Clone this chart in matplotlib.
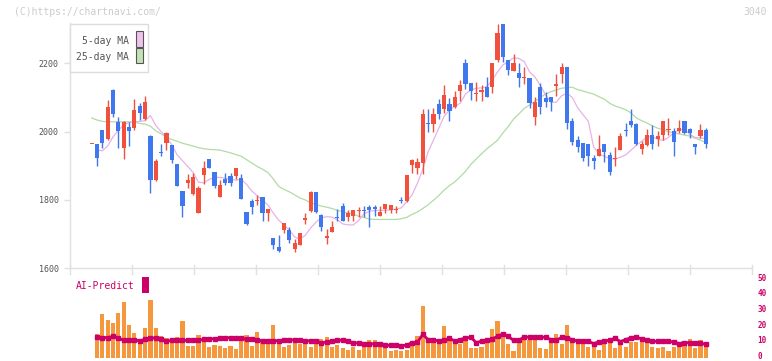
import matplotlib
matplotlib.use('Agg')
import matplotlib.pyplot as plt
import matplotlib.transforms as mtransforms
from matplotlib.patches import Rectangle
import numpy as np

# ---------------- data ----------------
opens = [1963, 1963, 2005, 1978, 2122, 2029, 1953, 2015, 2012, 2076, 2037, 1987, 1858, 1940, 1968, 1961,
         1905, 1826, 1851, 1817, 1763, 1873, 1920, 1882, 1810, 1861, 1870, 1870, 1865, 1766, 1797, 1797,
         1808, 1763, 1688, 1663, 1712, 1712, 1657, 1668, 1740, 1769, 1822, 1756, 1690, 1707, 1750, 1782,
         1749, 1753, 1769, 1770, 1780, 1780, 1753, 1773, 1771, 1771, 1799, 1798, 1902, 1895, 1907, 2026,
         2021, 2080, 2065, 2080, 2073, 2119, 2200, 2141, 2111, 2115, 2130, 2132, 2210, 2315, 2210, 2178,
         2173, 2157, 2156, 2044, 2132, 2098, 2102, 2135, 2169, 2190, 2031, 1976, 1966, 1963, 1924, 1930,
         1963, 1932, 1919, 1946, 2004, 2031, 2022, 1949, 1961, 1990, 1978, 1990, 2006, 2002, 2002, 2031,
         2008, 1964, 1987, 2005]
highs = [1963, 1963, 2005, 2093, 2125, 2044, 2031, 2029, 2096, 2083, 2105, 1990, 1920, 1964, 2000, 1961,
         1905, 1826, 1876, 1878, 1841, 1914, 1920, 1882, 1858, 1878, 1878, 1895, 1876, 1766, 1802, 1815,
         1808, 1775, 1688, 1697, 1732, 1722, 1686, 1704, 1761, 1826, 1822, 1758, 1714, 1739, 1774, 1790,
         1771, 1771, 1780, 1783, 1785, 1785, 1782, 1788, 1785, 1782, 1810, 1873, 1920, 1924, 2066, 2066,
         2070, 2096, 2137, 2098, 2119, 2151, 2213, 2141, 2146, 2137, 2161, 2200, 2315, 2315, 2210, 2226,
         2200, 2190, 2158, 2102, 2141, 2117, 2102, 2169, 2200, 2190, 2039, 1987, 1966, 1963, 1932, 1990,
         1963, 1941, 1954, 1997, 2024, 2065, 2025, 1974, 2008, 2020, 2002, 2031, 2039, 2012, 2034, 2031,
         2012, 1964, 2022, 2012]
lows = [1963, 1900, 1951, 1975, 2042, 1953, 1919, 1959, 2005, 2034, 2034, 1821, 1855, 1929, 1946, 1909,
        1841, 1749, 1834, 1816, 1763, 1847, 1895, 1836, 1810, 1844, 1841, 1861, 1804, 1727, 1759, 1785,
        1739, 1739, 1656, 1649, 1704, 1673, 1649, 1668, 1730, 1766, 1763, 1710, 1671, 1707, 1737, 1739,
        1739, 1739, 1751, 1751, 1720, 1753, 1753, 1761, 1761, 1761, 1790, 1795, 1878, 1875, 1875, 2000,
        2000, 2037, 2054, 2032, 2068, 2090, 2125, 2093, 2090, 2090, 2102, 2112, 2205, 2205, 2166, 2178,
        2132, 2139, 2070, 2018, 2051, 2073, 2059, 2105, 2141, 2008, 1961, 1939, 1915, 1900, 1891, 1930,
        1910, 1873, 1900, 1946, 1987, 2015, 1962, 1935, 1958, 1949, 1958, 1976, 1990, 1929, 1995, 1993,
        1982, 1935, 1980, 1953]
closes = [1963, 1924, 1968, 2073, 2052, 2003, 2028, 2003, 2063, 2056, 2088, 1857, 1914, 1938, 1995, 1917,
          1841, 1783, 1857, 1868, 1836, 1895, 1895, 1841, 1844, 1851, 1849, 1895, 1804, 1730, 1780, 1799,
          1763, 1773, 1668, 1652, 1732, 1683, 1673, 1702, 1746, 1822, 1766, 1722, 1694, 1720, 1748, 1739,
          1761, 1771, 1772, 1768, 1771, 1774, 1766, 1788, 1785, 1774, 1797, 1873, 1917, 1912, 2052, 2023,
          2052, 2052, 2107, 2061, 2101, 2137, 2139, 2119, 2113, 2122, 2102, 2200, 2288, 2219, 2180, 2200,
          2156, 2160, 2085, 2086, 2073, 2086, 2088, 2138, 2190, 2024, 1971, 1956, 1924, 1930, 1915, 1949,
          1939, 1883, 1921, 1987, 2002, 2020, 1964, 1964, 1990, 1964, 1987, 2031, 2008, 1971, 2010, 1997,
          1995, 1956, 2005, 1964]

ma5 = [np.nan, 1946, 1944, 1958, 1985, 2004, 2020, 2027, 2029, 2030, 2032,
       2047, 2018, 2000, 1983, 1962, 1932, 1915, 1898, 1880, 1852,
       1850, 1860, 1866, 1866, 1864, 1860, 1858, 1860, 1846, 1826,
       1812, 1800, 1785, 1762, 1741, 1727, 1712, 1692, 1685, 1697,
       1718, 1735, 1748, 1751, 1750, 1742, 1730, 1727, 1727, 1740,
       1760, 1767, 1769, 1770, 1770, 1771, 1773, 1777, 1795, 1815,
       1849, 1890, 1941, 1975, 2010, 2045, 2063, 2074, 2083, 2110,
       2122, 2127, 2128, 2132, 2150, 2175, 2195, 2205, 2216, 2214,
       2205, 2175, 2160, 2136, 2107, 2086, 2086, 2105, 2112, 2100,
       2070, 2050, 2030, 1955, 1935, 1928, 1921, 1920, 1925, 1932,
       1946, 1960, 1972, 1984, 1985, 1978, 1974, 1983, 1997, 2004,
       2007, 1992, 1983, 1981, 1980]
ma25 = [2040, 2034, 2030, 2029, 2029, 2029, 2029, 2029, 2028, 2024, 2022, 2016, 2002, 1994, 1983, 1977,
        1972, 1966, 1962, 1958, 1953, 1950, 1948, 1947, 1946, 1942, 1938, 1933, 1928, 1918, 1908, 1898,
        1890, 1880, 1862, 1840, 1831, 1824, 1815, 1806, 1800, 1792, 1787, 1782, 1779, 1775, 1770, 1765,
        1762, 1759, 1752, 1749, 1744, 1743, 1743, 1743, 1743, 1743, 1745, 1749, 1758, 1765, 1775, 1786,
        1799, 1813, 1829, 1842, 1853, 1868, 1884, 1904, 1920, 1935, 1950, 1962, 1975, 1996, 2015, 2037,
        2052, 2068, 2078, 2088, 2100, 2110, 2117, 2122, 2127, 2129, 2130, 2123, 2119, 2114, 2110, 2102,
        2095, 2083, 2075, 2070, 2064, 2055, 2040, 2032, 2025, 2017, 2010, 2005, 2000, 1997, 1993, 1990,
        1987, 1981, 1975, 1968]

# AI-Predict panel (starts at the 2nd candle)
ai_bar = [15.1, 27.8, 24, 22.1, 28.4, 35.5, 20.8, 15.7, 10.2, 18.9, 36.7, 18.9, 13.8, 12.5, 12.5, 13.2,
          23.4, 7.4, 7.4, 14.4, 10.6, 6.8, 8.1, 7.4, 6.2, 7.4, 5.5, 10.6, 14.4, 7.4, 16.3,
          11, 11, 21, 11, 7, 8, 10, 9, 10, 7,
          11, 12, 13, 7, 8, 6, 5, 7, 5, 10,
          11, 11, 8, 6, 4.5, 5, 4.5, 5, 10, 14,
          33, 11, 10, 11, 20, 12, 10, 9, 11, 6,
          6, 7, 10, 18, 23, 13, 9, 4.5, 11, 13,
          11, 13, 6, 5.5, 11, 15, 9, 21, 12, 11,
          9, 7, 8, 5, 10, 10, 6, 11, 7, 10,
          10, 11, 10, 7, 6, 7, 4.5, 7, 7, 8,
          12, 6, 11, 9]
ai_line = [13, 12.8, 12.8, 13.5, 12.5, 11, 11, 11.5, 10.5, 11.8,
           12.4, 12.6, 11.8, 10.5, 11, 11, 11, 11, 11, 11.2,
           11.6, 12, 12, 12.2, 12.8, 12.6, 12.4, 12.2, 11.8, 11.6,
           11.2, 10.8, 10.8, 10.8, 10.8, 11, 11.2, 11.4, 11, 10.8,
           10.6, 10.5, 9.5, 10, 10.6, 11, 11.2, 10.5, 9.5, 9.2,
           8.9, 8.9, 8.8, 8.5, 8, 7.8, 7.8, 7.6, 8, 9.5,
           9.8, 14.8, 11.5, 11, 10.8, 11, 12.4, 10.5, 11.5, 12.5,
           13, 9.6, 10.5, 11, 12, 13.5, 15.2, 13.5, 11, 11,
           13.3, 13, 13, 13, 13, 11.5, 11, 12.9, 12.6, 11.5,
           10.5, 10.5, 10.3, 9, 10, 10.8, 11, 12.4, 10.2, 11.5,
           12.7, 13, 12, 11, 10.5, 10.3, 10.3, 10.3, 10, 9,
           9.5, 9.6, 9.5, 9.3, 8.5]

date_labels = ['3/2', '3/16', '3/31', '4/14', '4/28', '5/18', '6/1', '6/15', '6/29', '7/13', '7/28']
date_index = [15, 25, 35, 45, 55, 66, 75, 85, 95, 105, 115]
price_ticks = [1600, 1800, 2000, 2200]
ai_ticks = [0, 10, 20, 30, 40, 50]

# ---------------- style ----------------
RED = '#f0503c'
BLUE = '#3f78ee'
PINK = '#e8b2e8'
GREEN = '#b2dba4'
ORANGE = '#f5983d'
CRIMSON = '#cc0066'
GRID = '#e0e0e0'
TXT = '#555555'
MONO = 'DejaVu Sans Mono'

W, H = 772, 361
fig = plt.figure(figsize=(W / 100, H / 100), dpi=100)


def add_px_axes(left, top, right, bottom):
    return fig.add_axes([left / W, 1 - bottom / H, (right - left) / W, (bottom - top) / H])


def fx(px):
    return px / W


def fy(py):
    return 1 - py / H


ax = add_px_axes(70, 23, 752, 268.3)
ax2 = add_px_axes(70, 276.8, 752, 357.7)

x = np.arange(len(opens))
o = np.array(opens, float)
c = np.array(closes, float)
hi = np.array(highs, float)
lo = np.array(lows, float)
cols = np.where(c >= o, RED, BLUE)

ax.plot(x, ma25, color=GREEN, lw=0.9, zorder=1)
ax.plot(x, ma5, color=PINK, lw=0.9, zorder=1)
ax.vlines(x, lo, hi, colors=cols, lw=1.0, zorder=2)
ax.bar(x, np.maximum(np.abs(c - o), 3), bottom=np.minimum(o, c), width=0.78,
       color=cols, linewidth=0, zorder=3)

xmin, xmax = -4.06, 123.65
ax.set_xlim(xmin, xmax)
ax.set_ylim(1600, 2318)
for s in ['top', 'right']:
    ax.spines[s].set_visible(False)
for s in ['left', 'bottom']:
    ax.spines[s].set_color(GRID)
    ax.spines[s].set_linewidth(1)
ax.set_xticks([])
ax.set_yticks(price_ticks)
ax.set_yticklabels([str(t) for t in price_ticks], fontsize=6, family=MONO, color=TXT)
ax.tick_params(axis='y', length=4, width=1, color=GRID, pad=4)

# bottom axis ticks (evenly spaced)
for k in range(12):
    ax.plot([k / 11, k / 11], [-0.022, 0.0135], transform=ax.transAxes, color=GRID,
            lw=1, clip_on=False)

trans = mtransforms.blended_transform_factory(ax.transData, ax.transAxes)
for lab, idx in zip(date_labels, date_index):
    ax.text(idx, -0.056, lab, transform=trans, ha='center', va='center',
            fontsize=6, family=MONO, color=TXT)

# legend box
ax.add_patch(Rectangle((fx(70), fy(72)), fx(78), 48 / H, transform=fig.transFigure,
                       facecolor='white', edgecolor='#dddddd', lw=1, clip_on=False, zorder=10))
fig.text(fx(129), fy(40.7), '5-day MA', ha='right', va='center', fontsize=7, family=MONO,
         color=TXT, zorder=11)
fig.text(fx(129), fy(57.3), '25-day MA', ha='right', va='center', fontsize=7, family=MONO,
         color=TXT, zorder=11)
ax.add_patch(Rectangle((fx(136), fy(46.7)), fx(7), 15.7 / H, transform=fig.transFigure,
                       facecolor='#f0c2ee', edgecolor='#555555', lw=0.8, clip_on=False, zorder=11))
ax.add_patch(Rectangle((fx(136), fy(63.3)), fx(7), 15 / H, transform=fig.transFigure,
                       facecolor='#c2e2b4', edgecolor='#555555', lw=0.8, clip_on=False, zorder=11))

# header texts
fig.text(fx(14), fy(12), '(C)https://chartnavi.com/', ha='left', va='center', fontsize=7,
         family=MONO, color='#cccccc')
fig.text(fx(767), fy(12), '3040', ha='right', va='center', fontsize=7, family=MONO,
         color='#cccccc')

# AI-Predict panel
xa = x[1:]
ax2.bar(xa, ai_bar, width=0.78, color=ORANGE, linewidth=0, zorder=1)
ax2.plot(xa, ai_line, color=CRIMSON, lw=2.0, marker='s', ms=2.4, zorder=2)
ax2.set_xlim(xmin, xmax)
ax2.set_ylim(0, 51.4)
for s in ax2.spines.values():
    s.set_visible(False)
ax2.set_xticks([])
ax2.yaxis.tick_right()
ax2.set_yticks(ai_ticks)
ax2.set_yticklabels([str(t) for t in ai_ticks], fontsize=5.5, family=MONO, color=CRIMSON,
                    fontweight='bold')
ax2.tick_params(axis='y', length=0, pad=4)
shift = mtransforms.ScaledTranslation(0, 2.0 / 100, fig.dpi_scale_trans)
for lab in ax2.get_yticklabels():
    lab.set_transform(lab.get_transform() + shift)

fig.text(fx(75.7), fy(286), 'AI-Predict', ha='left', va='center', fontsize=7, family=MONO,
         color=CRIMSON)
fig.patches.append(Rectangle((fx(142.3), fy(292.7)), fx(6.7), 16 / H, transform=fig.transFigure,
                             facecolor=CRIMSON, edgecolor='none', figure=fig))

fig.savefig('out.png', dpi=100)
